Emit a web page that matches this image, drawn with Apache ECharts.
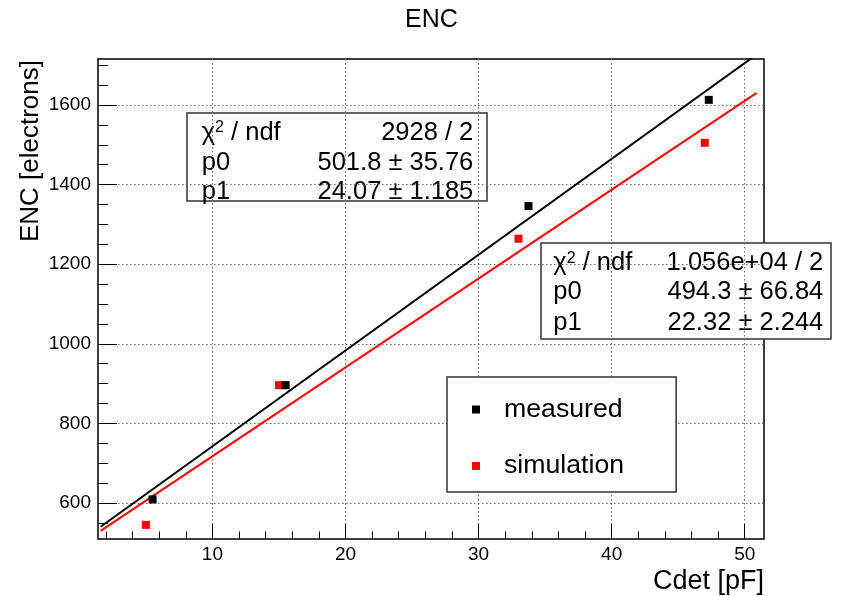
<!DOCTYPE html>
<html>
<head>
<meta charset="utf-8">
<title>ENC</title>
<script src="https://cdn.jsdelivr.net/npm/echarts@6.0.0/dist/echarts.min.js"></script>
<style>
  html, body { margin: 0; padding: 0; background: #fff; }
  #chart { width: 842px; height: 596px; }
</style>
</head>
<body>
<div id="chart"></div>
<script>
// --- data ---
const measuredX = [5.5, 15.5, 33.75, 47.3];
const measuredY = [609, 896, 1346, 1613];
const simulationX = [5.0, 15.0, 33.0, 47.0];
const simulationY = [545, 896, 1264, 1505];

// pol1 fits, ends of the drawn range
const fitX = [1.6, 50.9];
const measuredFitY = [540.3, 1727];
const simulationFitY = [530, 1630.4];

// stat boxes
const statLabels = ['{t|χ}{s|2}{t| / ndf}', 'p0', 'p1'];
const measuredStats = ['2928 / 2', '501.8 ± 35.76', '24.07 ± 1.185'];
const simulationStats = ['1.056e+04 / 2', '494.3 ± 66.84', '22.32 ± 2.244'];

// axes
const xMin = 1.4, xMax = 51.45;
const yMin = 509.5, yMax = 1715.6;
const xTicks = [10, 20, 30, 40, 50];
const xMinorTicks = [2, 4, 6, 8, 12, 14, 16, 18, 22, 24, 26, 28, 32, 34, 36, 38, 42, 44, 46, 48];
const yTicks = [600, 800, 1000, 1200, 1400, 1600];
const yMinorTicks = [550, 650, 700, 750, 850, 900, 950, 1050, 1100, 1150, 1250, 1300, 1350, 1450, 1500, 1550, 1650, 1700];

const FONT = '"Liberation Sans", Arial, Helvetica, sans-serif';
const pairs = (xs, ys) => xs.map((x, i) => [x, ys[i]]);

function statBox(x, y, width, height, values, rowY, labelPad, valuePad) {
  const fs = 25.5;
  const children = [{
    type: 'rect',
    shape: { x: 0, y: 0, width: width, height: height },
    style: { fill: '#fff', stroke: '#333', lineWidth: 1.5 }
  }];
  values.forEach((v, i) => {
    children.push({
      type: 'text', x: labelPad, y: rowY[i],
      style: {
        text: i === 0 ? statLabels[i] : '{t|' + statLabels[i] + '}',
        align: 'left', verticalAlign: 'middle',
        rich: {
          t: { fontSize: fs, fontFamily: FONT, fill: '#000', verticalAlign: 'middle' },
          s: { fontSize: 16, fontFamily: FONT, fill: '#000', verticalAlign: 'top' }
        }
      }
    });
    children.push({
      type: 'text', x: width - valuePad, y: rowY[i],
      style: { text: v, align: 'right', verticalAlign: 'middle', fontSize: fs, fontFamily: FONT, fill: '#000' }
    });
  });
  return { type: 'group', x: x, y: y, z: 10, children: children };
}

function tickAxis(values, length, pos, min, max) {
  return {
    type: 'value', position: pos, min: min, max: max,
    axisLine: { show: false },
    axisTick: { inside: true, length: length, customValues: values, lineStyle: { color: '#000', width: 1 } },
    axisLabel: { show: false },
    splitLine: { show: false }
  };
}

function buildOption() {
  return {
    backgroundColor: '#fff',
    animation: false,
    title: {
      text: 'ENC', left: 405, top: 8, padding: 0,
      textStyle: { fontSize: 25, fontWeight: 'normal', color: '#000', fontFamily: FONT }
    },
    legend: {
      orient: 'vertical', left: 447, top: 377,
      data: ['measured', 'simulation'],
      icon: 'rect', itemWidth: 8, itemHeight: 8, itemGap: 26.5,
      padding: [17.5, 52, 11, 25],
      borderColor: '#333', borderWidth: 1.5, borderRadius: 0, backgroundColor: '#fff',
      selectedMode: false,
      itemStyle: { opacity: 1 },
      textStyle: { fontSize: 26.7, color: '#000', lineHeight: 30, padding: [0, 0, 0, 19], fontFamily: FONT }
    },
    grid: {
      left: 98, top: 59, width: 666, height: 480,
      show: true, borderColor: '#000', borderWidth: 1.5, backgroundColor: 'transparent',
      containLabel: false, outerBoundsMode: 'none'
    },
    xAxis: [{
      type: 'value', position: 'bottom', min: xMin, max: xMax,
      axisLine: { show: false },
      axisTick: { inside: true, length: 15, customValues: xTicks, lineStyle: { color: '#000', width: 1 } },
      axisLabel: { customValues: xTicks, fontSize: 19, color: '#000', margin: 6, fontFamily: FONT, formatter: (v) => String(v) },
      splitLine: { show: true, lineStyle: { color: '#666', type: [1.5, 2.5], width: 1 } },
      name: 'Cdet [pF]', nameLocation: 'end', nameGap: 0,
      nameTextStyle: { fontSize: 27, color: '#000', fontFamily: FONT, align: 'right', verticalAlign: 'top', padding: [29, 0, 0, 0] }
    }, tickAxis(xMinorTicks, 7.5, 'bottom', xMin, xMax)],
    yAxis: [{
      type: 'value', position: 'left', min: yMin, max: yMax,
      axisLine: { show: false },
      axisTick: { inside: true, length: 19, customValues: yTicks, lineStyle: { color: '#000', width: 1 } },
      axisLabel: { customValues: yTicks, fontSize: 19, color: '#000', margin: 7, fontFamily: FONT, formatter: (v) => String(v) },
      splitLine: { show: true, lineStyle: { color: '#666', type: [1.5, 2.5], width: 1 } }
    }, tickAxis(yMinorTicks, 10, 'left', yMin, yMax)],
    series: [
      {
        type: 'line', data: pairs(fitX, simulationFitY), symbol: 'none', silent: true,
        lineStyle: { color: '#ff0000', width: 2 }, z: 2
      },
      {
        name: 'simulation', type: 'scatter', data: pairs(simulationX, simulationY),
        symbol: 'rect', symbolSize: 8, itemStyle: { color: '#ff0000', opacity: 1 }, z: 3
      },
      {
        type: 'line', data: pairs(fitX, measuredFitY), symbol: 'none', silent: true,
        lineStyle: { color: '#000', width: 2 }, z: 2
      },
      {
        name: 'measured', type: 'scatter', data: pairs(measuredX, measuredY),
        symbol: 'rect', symbolSize: 8, itemStyle: { color: '#000', opacity: 1 }, z: 4
      }
    ],
    graphic: [
      // y axis title, rotated, right end at the top of the frame
      {
        type: 'text', x: 31, y: 60, rotation: Math.PI / 2,
        style: { text: 'ENC [electrons]', align: 'right', verticalAlign: 'middle', fontSize: 26, fontFamily: FONT, fill: '#000' }
      },
      statBox(187, 113, 300, 88, measuredStats, [20, 49.5, 78.7], 14.7, 13.7),
      statBox(541, 243, 290, 96, simulationStats, [20.3, 49, 80.3], 12.3, 7.7)
    ]
  };
}

const chart = echarts.init(document.getElementById('chart'));
chart.setOption(buildOption());
</script>
</body>
</html>
